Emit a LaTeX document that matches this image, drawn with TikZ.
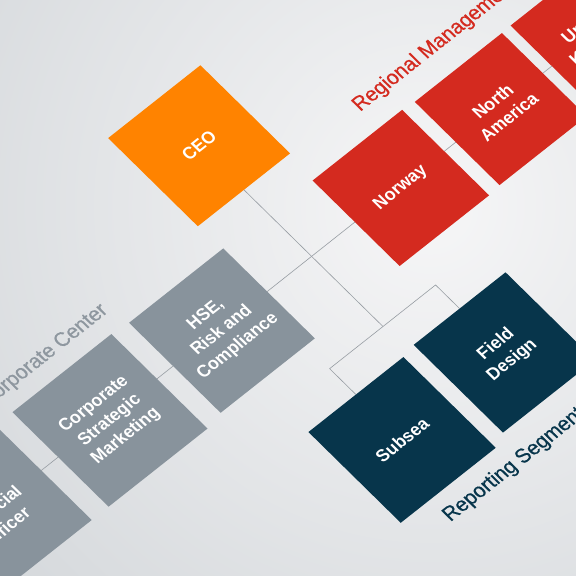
\documentclass[tikz,border=0pt]{standalone}
\usepackage{fontspec}
\setmainfont{Liberation Sans}
\newfontfamily\headfont[FakeBold=0.6]{Liberation Sans}
\usetikzlibrary{backgrounds}
\definecolor{ceoorange}{HTML}{FF8300}
\definecolor{regred}{HTML}{D42A1F}
\definecolor{corpgray}{HTML}{88939C}
\definecolor{segnavy}{HTML}{07354B}
\definecolor{linegray}{HTML}{979DA3}
\definecolor{bginner}{HTML}{F6F6F7}
\definecolor{bgouter}{HTML}{BCC2C7}
\definecolor{headgray}{HTML}{8E979F}
\begin{document}
\begin{tikzpicture}[x=1pt,y=1pt,
  box/.style={draw=none, minimum size=#1, inner sep=0pt, align=center, text=white,
              font=\bfseries\fontsize{17}{21}\selectfont},
  conn/.style={draw=linegray, line width=0.6pt},
  heading/.style={inner sep=0pt, font=\headfont\fontsize{20}{24}\selectfont}]
\useasboundingbox (0,0) rectangle (576,576);
\begin{scope}[on background layer]
  \shade[inner color=bginner, outer color=bgouter] (430,370) circle (1000);
\end{scope}
\begin{scope}[cm={0.785,0.620,-0.763,0.750,(199.1,430.25)}, transform shape]
  \node[box=117.5pt, fill=ceoorange] (ceo) at (0,0) {CEO};
  \node[box=114pt, fill=regred] (norway) at (112.2,-149) {Norway};
  \node[box=111pt, fill=regred] (namerica) at (239.4,-149) {North\\America};
  \node[box=108pt, fill=regred] (uk) at (360.4,-147) {United\\Kingdom};
  \node[box=120pt, fill=corpgray] (hse) at (-116.7,-150) {HSE,\\Risk and\\Compliance};
  \node[box=126pt, fill=corpgray] (csm) at (-260.3,-151) {Corporate\\Strategic\\Marketing};
  \node[box=132pt, fill=corpgray] (cfo) at (-410.8,-148) {Chief\\Financial\\Officer};
  \node[box=121pt, fill=segnavy] (subsea) at (-68,-336) {Subsea};
  \node[box=117pt, fill=segnavy] (fdesign) at (67,-331) {Field\\Design};
  \node[heading, text=regred, anchor=base west] (hreg) at (138,-69) {Regional Management};
  \node[heading, text=headgray, anchor=base east] (hcorp) at (-183,-70) {Corporate Center};
  \node[heading, text=segnavy, anchor=base west] (hseg) at (-93,-425) {Reporting Segments};
  \coordinate (bmid) at (0,-241);
  \coordinate (bleft) at (-68,-241);
  \coordinate (bright) at (67,-241);
\end{scope}
\begin{scope}[on background layer]
  \draw[conn] (cfo.center) -- (uk.center);
  \draw[conn] (ceo.south) -- (bmid);
  \draw[conn] (subsea.north) -- (bleft) -- (bright) -- (fdesign.north);
\end{scope}
\end{tikzpicture}
\end{document}
